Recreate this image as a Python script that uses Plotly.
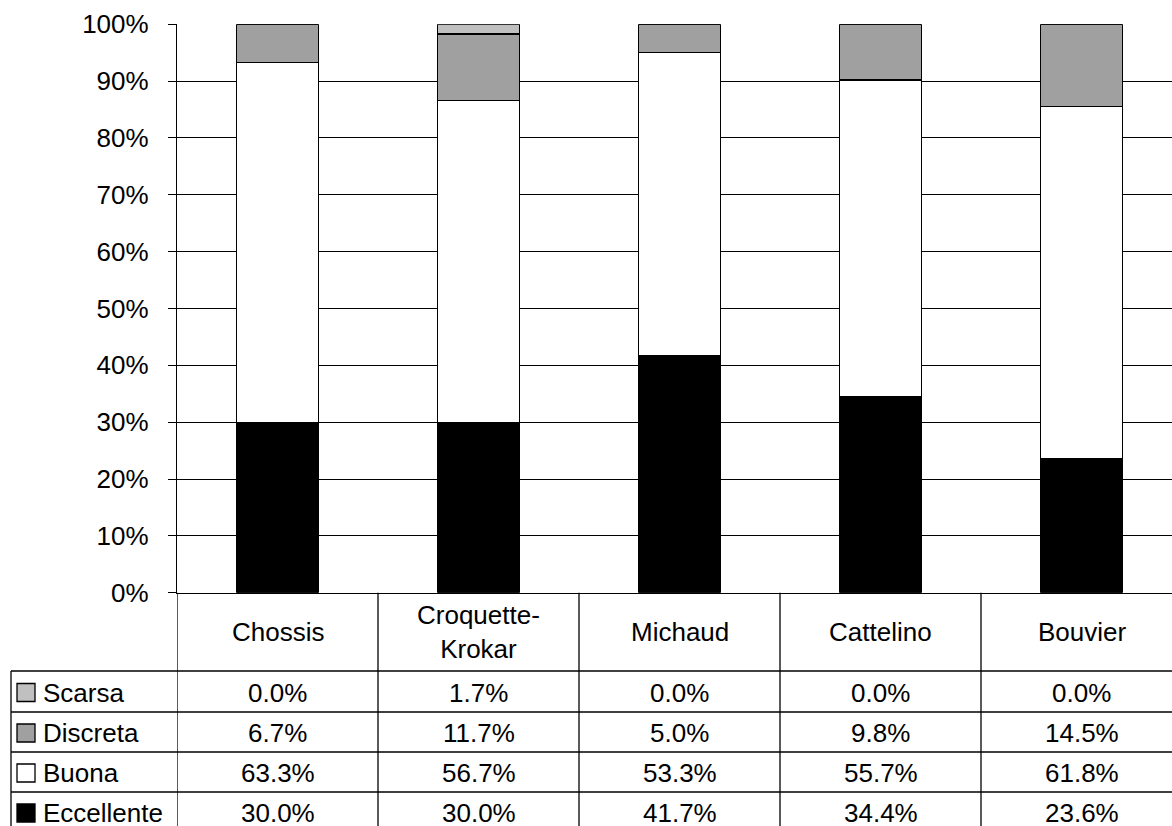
import plotly.graph_objects as go

categories = ["Chossis", "Croquette-Krokar", "Michaud", "Cattelino", "Bouvier"]
category_labels = ["Chossis", "Croquette-<br>Krokar", "Michaud", "Cattelino", "Bouvier"]
series_names = ["Scarsa", "Discreta", "Buona", "Eccellente"]
scarsa = [0.0, 1.7, 0.0, 0.0, 0.0]
discreta = [6.7, 11.7, 5.0, 9.8, 14.5]
buona = [63.3, 56.7, 53.3, 55.7, 61.8]
eccellente = [30.0, 30.0, 41.7, 34.4, 23.6]
y_ticks = [0, 10, 20, 30, 40, 50, 60, 70, 80, 90, 100]

W, H = 1172, 826
FONT = "Liberation Sans, Arial, sans-serif"
FS = 26
colors = {"Scarsa": "#C0C0C0", "Discreta": "#A0A0A0", "Buona": "#FFFFFF", "Eccellente": "#000000"}
values = {"Scarsa": scarsa, "Discreta": discreta, "Buona": buona, "Eccellente": eccellente}

def px(x):
    return x / W

def py(y):
    return 1 - y / H

fig = go.Figure()
for name in ["Eccellente", "Buona", "Discreta", "Scarsa"]:
    fig.add_trace(go.Bar(
        x=list(range(len(categories))), y=values[name], name=name,
        marker=dict(color=colors[name], line=dict(color="black", width=1.3)),
        width=0.406, showlegend=False,
    ))

x_left, x_right = 177, W
y_top, y_bot = 24.3, 592.7
cat_px = 201.0
fig.update_layout(
    width=W, height=H, margin=dict(l=0, r=0, t=0, b=0, autoexpand=False),
    paper_bgcolor="white", plot_bgcolor="white",
    barmode="stack", barnorm="percent",
    font=dict(family=FONT, size=FS, color="black"),
    xaxis=dict(domain=[px(x_left), 1], range=[-0.5, -0.5 + (x_right - x_left) / cat_px],
               showticklabels=False, showgrid=False, zeroline=False, automargin=False,
               showline=True, linecolor="black", linewidth=1.3, ticks=""),
    yaxis=dict(domain=[py(y_bot), py(y_top)], range=[0, 100], tickvals=y_ticks,
               ticktext=[f"{v}%" for v in y_ticks], automargin=False,
               showgrid=True, gridcolor="black", gridwidth=1.3, zeroline=False,
               showline=True, linecolor="black", linewidth=1.3,
               ticks="outside", ticklen=8, tickcolor="black", tickwidth=1.3,
               ticklabelstandoff=14, tickfont=dict(family=FONT, size=FS, color="black")),
)

shapes = []
line = dict(color="black", width=1.3)
# table row lines
row_lines = [671, 712, 752, 792]
for r in row_lines:
    shapes.append(dict(type="line", xref="paper", yref="paper", x0=px(11), x1=1, y0=py(r), y1=py(r), line=line))
# left border of legend column
shapes.append(dict(type="line", xref="paper", yref="paper", x0=px(11), x1=px(11), y0=py(671), y1=0, line=line))
# vertical lines between categories
for i in range(len(categories)):
    shapes.append(dict(type="line", xref="x", yref="paper", x0=i - 0.5, x1=i - 0.5, y0=py(y_bot), y1=0, line=line))

annotations = []
# header labels
for i, lab in enumerate(category_labels):
    annotations.append(dict(xref="x", yref="paper", x=i, y=py((y_bot + 671) / 2), text=lab,
                            showarrow=False, xanchor="center", yanchor="middle",
                            font=dict(family=FONT, size=FS, color="black")))
# rows
row_tops = [671, 712, 752, 792]
row_bots = [712, 752, 792, 832]
for k, name in enumerate(series_names):
    yc = (row_tops[k] + row_bots[k]) / 2 + 1
    shapes.append(dict(type="rect", xref="paper", yref="paper",
                       x0=px(17), x1=px(35), y0=py(yc - 9), y1=py(yc + 9),
                       fillcolor=colors[name], line=dict(color="black", width=1.3)))
    annotations.append(dict(xref="paper", yref="paper", x=px(41), y=py(yc), text=name,
                            showarrow=False, xanchor="left", yanchor="middle",
                            font=dict(family=FONT, size=FS, color="black")))
    for i, v in enumerate(values[name]):
        annotations.append(dict(xref="x", yref="paper", x=i, y=py(yc), text=f"{v:.1f}%",
                                showarrow=False, xanchor="center", yanchor="middle",
                                font=dict(family=FONT, size=FS, color="black")))

fig.update_layout(shapes=shapes, annotations=annotations)
fig.write_html("out.html")
